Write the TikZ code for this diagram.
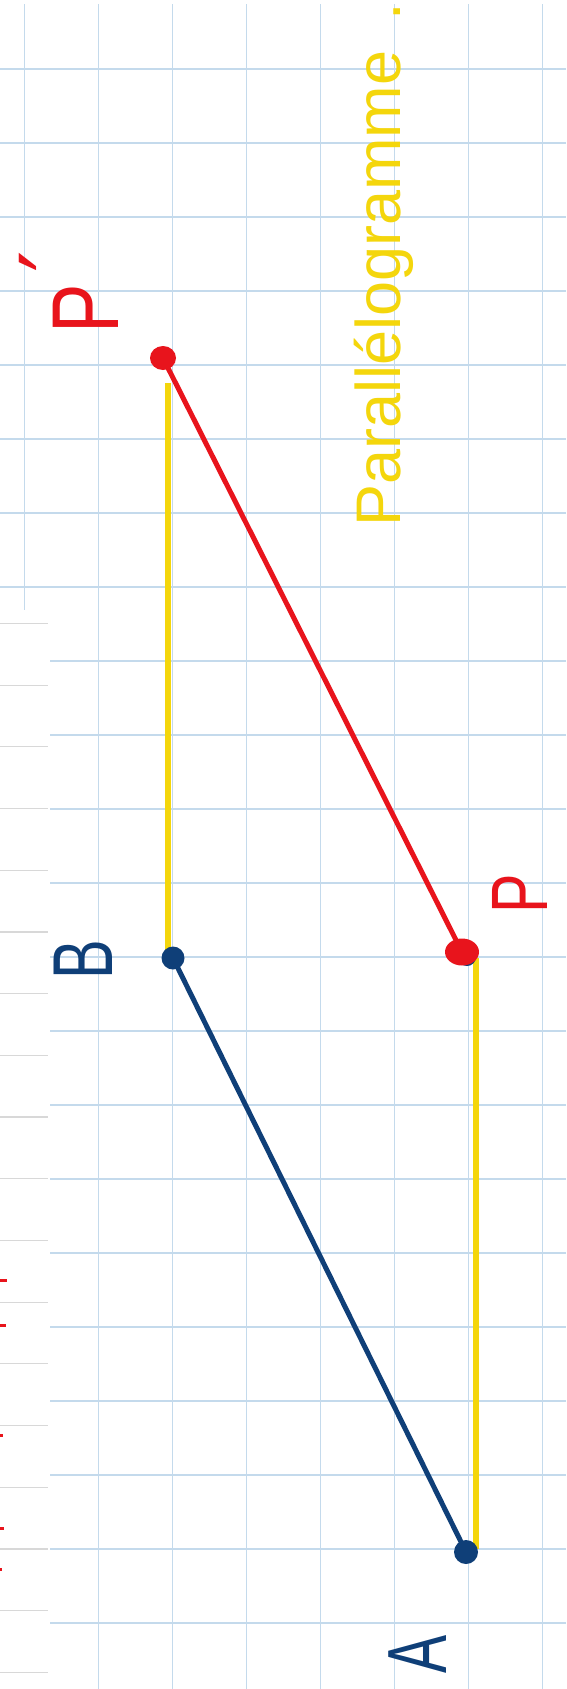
\documentclass[tikz,border=0pt]{standalone}
\usepackage{fontspec}
\setmainfont{Liberation Sans}
\newfontfamily\primefont{DejaVu Sans}
\usetikzlibrary{shapes.geometric}
\definecolor{gridblue}{HTML}{C4DAEC}
\definecolor{stripgray}{HTML}{D8D8D8}
\definecolor{penred}{HTML}{E8141C}
\definecolor{penblue}{HTML}{0F3F78}
\definecolor{penyellow}{HTML}{F4D60C}
\begin{document}
\begin{tikzpicture}[x=1pt,y=-1pt,
  gridline/.style={gridblue, line width=1.2pt},
  stripline/.style={stripgray, line width=1.2pt},
  seg/.style={line width=5pt, line cap=round},
  yseg/.style={penyellow, line width=6pt, line cap=butt},
  dotmark/.style={circle, fill=#1, draw=none, inner sep=0pt, minimum size=23pt},
  blobmark/.style={ellipse, fill=penred, draw=none, inner sep=0pt},
  lbl/.style={inner sep=0pt, rotate=90}]
\useasboundingbox (0,0) rectangle (566,1689);
\fill[white] (0,0) rectangle (566,1689);
% grid
\foreach \i in {1,...,7} \draw[gridline] ({24.5+74*\i},4) -- ({24.5+74*\i},1689);
\draw[gridline] (24.5,4) -- (24.5,610);
\foreach \k in {0,...,7} \draw[gridline] (0,{69+74*\k}) -- (566,{69+74*\k});
\foreach \k in {8,...,21} \draw[gridline] (50,{69+74*\k}) -- (566,{69+74*\k});
\foreach \k in {0,...,17} \draw[stripline] (0,{623.4+61.7*\k}) -- (48,{623.4+61.7*\k});
% red marks at left edge
\foreach \yy/\ww in {1280/7,1325/6,1435/3,1528/4,1569/2}
  \draw[penred, line width=3pt] (0,\yy) -- (\ww,\yy);
% points
\coordinate (Pp) at (163,358);
\coordinate (P) at (462,952);
\coordinate (B) at (173,958);
\coordinate (A) at (466,1552);
\coordinate (Y1t) at (168,383);
\coordinate (Y1b) at (168,958);
\coordinate (Y2t) at (476,958);
\coordinate (Y2b) at (476,1549);
% segments
\draw[yseg] (Y1t) -- (Y1b);
\draw[yseg] (Y2t) -- (Y2b);
\draw[seg, penred] (Pp) -- (P);
\draw[seg, penblue] (B) -- (A);
% dots
\node[dotmark=penblue, minimum size=18pt] (Pbase) at (467,957) {};
\node[blobmark, minimum width=34pt, minimum height=27pt] (Pdot) at (P) {};
\node[blobmark, minimum width=26pt, minimum height=24pt] (Ppdot) at (Pp) {};
\node[dotmark=penblue] (Bdot) at (B) {};
\node[dotmark=penblue, minimum size=24pt] (Adot) at (A) {};
% labels
\node[lbl, text=penblue, font=\fontsize{84pt}{84pt}\selectfont] (Alabel) at (418,1654) {\scalebox{0.68}[1]{A}};
\node[lbl, text=penblue, font=\fontsize{85pt}{85pt}\selectfont] (Blabel) at (83.5,960) {\scalebox{0.7}[1]{B}};
\node[lbl, text=penred, font=\fontsize{80pt}{80pt}\selectfont] (Plabel) at (520,894) {\scalebox{0.74}[1]{P}};
\node[lbl, anchor=base west, text=penred, font=\fontsize{95pt}{95pt}\selectfont] (Pplabel) at (118,334) {\scalebox{0.78}[1]{P}\hspace{12pt}\raisebox{30pt}{\primefont ′}};
\node[lbl, anchor=base west, text=penyellow, font=\fontsize{63pt}{63pt}\selectfont] (title) at (400,527) {Parallélogramme\hspace{30pt}.};
\end{tikzpicture}
\end{document}
